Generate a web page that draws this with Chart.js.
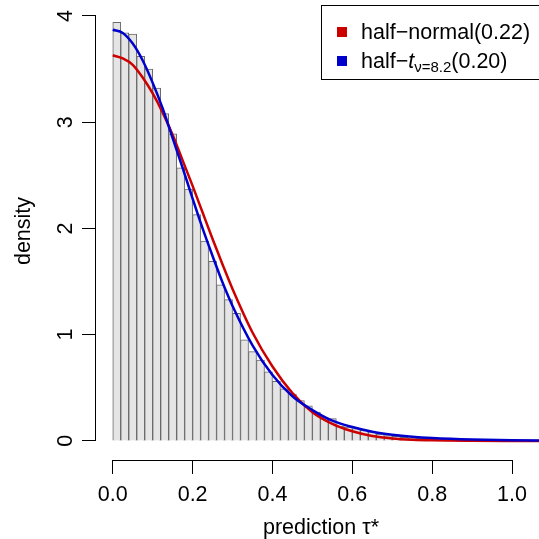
<!DOCTYPE html>
<html>
<head>
<meta charset="utf-8">
<script src="https://cdn.jsdelivr.net/npm/chart.js@4.4.0/dist/chart.umd.min.js"></script>
<style>
  html, body { margin: 0; padding: 0; background: #fff; }
  #caixa { width: 539px; height: 539px; }
</style>
</head>
<body>
<div id="caixa"><canvas id="myChart" width="539" height="539"></canvas></div>
<script>
// histograma (classes de 0.02)
const centros = [0.01, 0.03, 0.05, 0.07, 0.09, 0.11, 0.13, 0.15, 0.17, 0.19,
                 0.21, 0.23, 0.25, 0.27, 0.29, 0.31, 0.33, 0.35, 0.37, 0.39,
                 0.41, 0.43, 0.45, 0.47, 0.49, 0.51, 0.53, 0.55, 0.57, 0.59,
                 0.61, 0.63, 0.65, 0.67, 0.69, 0.71, 0.73, 0.75, 0.77, 0.79,
                 0.81, 0.83, 0.85, 0.87, 0.89, 0.91, 0.93, 0.95, 0.97, 0.99]
const densidade = [3.94, 3.84, 3.83, 3.62, 3.50, 3.32, 3.08, 2.89, 2.57, 2.37,
                   2.13, 1.88, 1.69, 1.47, 1.33, 1.20, 0.95, 0.84, 0.76, 0.65,
                   0.56, 0.49, 0.44, 0.38, 0.33, 0.27, 0.22, 0.21, 0.14, 0.13,
                   0.115, 0.10, 0.085, 0.063, 0.05, 0.042, 0.034, 0.029, 0.025, 0.021,
                   0.018, 0.015, 0.013, 0.011, 0.009, 0.008, 0.007, 0.006, 0.005, 0.004]

// curvas ajustadas
const curvaX = [0, 0.025, 0.05, 0.075, 0.1, 0.125, 0.15, 0.175, 0.2, 0.225, 0.25, 0.275, 0.3,
                0.35, 0.4, 0.45, 0.5, 0.55, 0.6, 0.65, 0.7, 0.75, 0.8, 0.9, 1.0, 1.1]
const halfNormal = [3.63, 3.60, 3.54, 3.42, 3.27, 3.09, 2.88, 2.64, 2.40, 2.15, 1.90, 1.66, 1.43,
                    1.02, 0.70, 0.45, 0.27, 0.16, 0.09, 0.046, 0.023, 0.011, 0.005, 0.001, 0.0, 0.0]
const halfT = [3.87, 3.84, 3.74, 3.58, 3.37, 3.13, 2.85, 2.57, 2.28, 2.00, 1.74, 1.49, 1.27,
               0.90, 0.62, 0.42, 0.29, 0.19, 0.13, 0.086, 0.058, 0.039, 0.027, 0.013, 0.006, 0.003]

const ticksX = [0, 0.2, 0.4, 0.6, 0.8, 1.0]
const labelsX = ['0.0', '0.2', '0.4', '0.6', '0.8', '1.0']
const ticksY = [0, 1, 2, 3, 4]
const labelsY = ['0', '1', '2', '3', '4']

const fonte = '"Liberation Sans", Arial, Helvetica, sans-serif'
const tam = 21.5

const barras = centros.map((c, i) => ({x: c, y: densidade[i]}))
const pontosN = curvaX.map((c, i) => ({x: c, y: halfNormal[i]}))
const pontosT = curvaX.map((c, i) => ({x: c, y: halfT[i]}))

const eixos = {
  id: 'eixos',
  afterDraw(chart) {
    const c = chart.ctx
    const sx = chart.scales.x
    const sy = chart.scales.y
    const area = chart.chartArea
    c.save()
    c.strokeStyle = '#000'
    c.lineWidth = 1
    // linhas dos eixos
    c.beginPath()
    c.moveTo(sx.getPixelForValue(0), Math.round(area.bottom) + 0.5)
    c.lineTo(sx.getPixelForValue(1), Math.round(area.bottom) + 0.5)
    c.moveTo(Math.round(area.left) - 0.5, sy.getPixelForValue(0))
    c.lineTo(Math.round(area.left) - 0.5, sy.getPixelForValue(4))
    c.stroke()

    c.fillStyle = '#000'
    c.font = tam + 'px ' + fonte
    c.textAlign = 'center'
    c.textBaseline = 'alphabetic'
    ticksX.forEach((v, i) => {
      c.fillText(labelsX[i], sx.getPixelForValue(v), 501)
    })
    ticksY.forEach((v, i) => {
      c.save()
      c.translate(71.5, sy.getPixelForValue(v))
      c.rotate(-Math.PI / 2)
      c.fillText(labelsY[i], 0, 0)
      c.restore()
    })
    // titulos
    c.fillText('prediction \u03c4*', 321, 534)
    c.save()
    c.translate(30, 231)
    c.rotate(-Math.PI / 2)
    c.fillText('density', 0, 0)
    c.restore()

    // legenda
    c.strokeRect(321.5, 5.5, 240, 74)
    c.textAlign = 'left'
    c.fillStyle = '#CD0000'
    c.fillRect(337, 27, 10, 10)
    c.fillStyle = '#0000CD'
    c.fillRect(337, 56, 10, 10)
    c.fillStyle = '#000'
    c.fillText('half\u2212normal(0.22)', 361, 39)
    let px = 361
    const by = 68
    c.fillText('half\u2212', px, by)
    px += c.measureText('half\u2212').width
    c.font = 'italic ' + tam + 'px ' + fonte
    c.fillText('t', px, by)
    px += c.measureText('t').width
    c.font = Math.round(tam * 0.7) + 'px ' + fonte
    c.fillText('\u03bd=8.2', px, by + 4)
    px += c.measureText('\u03bd=8.2').width
    c.font = tam + 'px ' + fonte
    c.fillText('(0.20)', px, by)
    c.restore()
  }
}

const ctx = document.getElementById('myChart')
new Chart(ctx, {
  type: 'bar',
  data: {
    datasets: [
      {
        type: 'line',
        label: 'half-t',
        data: pontosT,
        borderColor: '#0000CD',
        borderWidth: 2.5,
        pointRadius: 0,
        fill: false,
        cubicInterpolationMode: 'monotone',
        order: 0
      },
      {
        type: 'line',
        label: 'half-normal',
        data: pontosN,
        borderColor: '#CD0000',
        borderWidth: 2.5,
        pointRadius: 0,
        fill: false,
        cubicInterpolationMode: 'monotone',
        order: 1
      },
      {
        type: 'bar',
        label: 'hist',
        data: barras,
        backgroundColor: '#E5E5E5',
        borderColor: '#6A6A6A',
        borderWidth: 1,
        barPercentage: 1,
        categoryPercentage: 1,
        order: 2
      }
    ]
  },
  options: {
    responsive: false,
    animation: false,
    layout: { padding: 0 },
    plugins: { legend: { display: false }, tooltip: { enabled: false } },
    scales: {
      x: {
        type: 'linear',
        offset: false,
        min: -0.042,
        max: 1.0676,
        afterBuildTicks: s => { s.ticks = ticksX.map(v => ({value: v})) },
        afterFit: s => { s.height = 79 },
        grid: { drawOnChartArea: false, offset: false, color: '#000', tickLength: 14 },
        border: { display: false },
        ticks: { display: false }
      },
      y: {
        type: 'linear',
        min: -0.18,
        max: 4.15,
        afterBuildTicks: s => { s.ticks = ticksY.map(v => ({value: v})) },
        afterFit: s => { s.width = 96 },
        grid: { drawOnChartArea: false, color: '#000', tickLength: 14 },
        border: { display: false },
        ticks: { display: false }
      }
    }
  },
  plugins: [eixos]
})
</script>
</body>
</html>
